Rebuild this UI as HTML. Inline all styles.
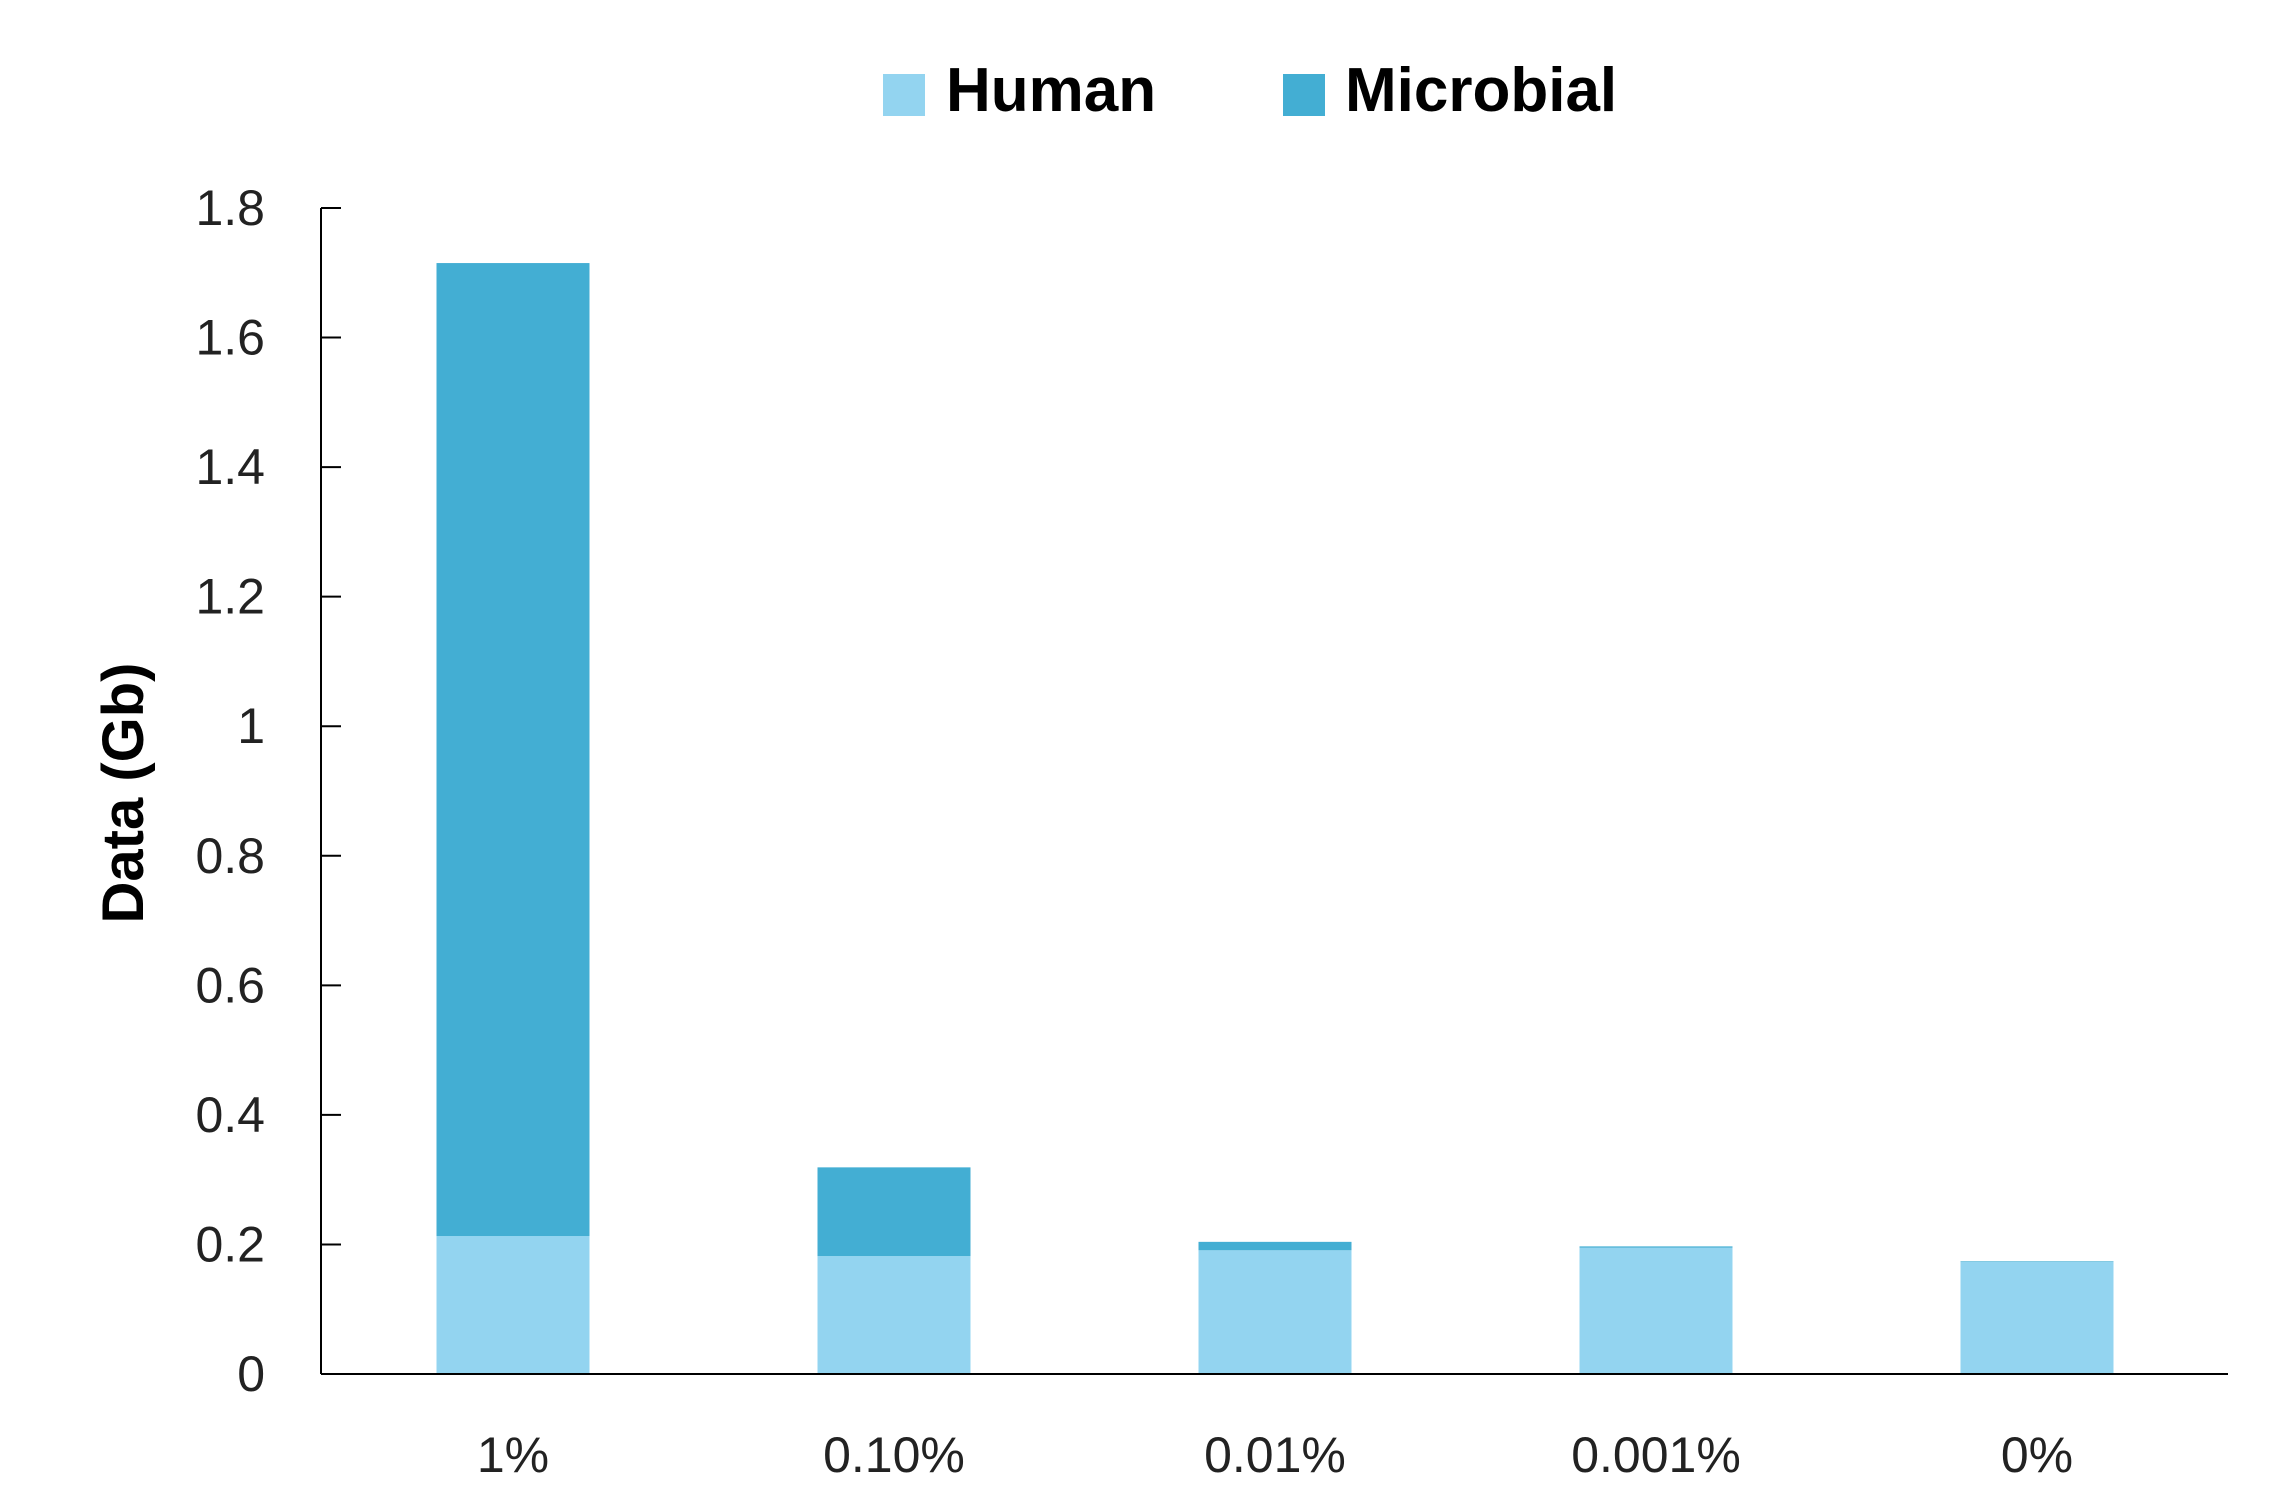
<!DOCTYPE html>
<html><head><meta charset="utf-8"><style>
html,body{margin:0;padding:0;background:#fff;}
svg{display:block;font-family:"Liberation Sans",sans-serif;}
</style></head><body>
<svg width="2269" height="1512" viewBox="0 0 2269 1512" id="chart">
<g>
<rect x="883" y="74" width="42" height="42" fill="#93d4f0"/>
<text x="946" y="111" font-size="62" font-weight="bold" fill="#000">Human</text>
<rect x="1283" y="74" width="42" height="42" fill="#43aed3"/>
<text x="1345" y="111" font-size="62" font-weight="bold" fill="#000">Microbial</text>
</g>
<text transform="translate(143,793) rotate(-90)" text-anchor="middle" font-size="58" font-weight="bold">Data (Gb)</text>
<g id="bars"></g>
<g id="axes"></g>
</svg>
<script>
const categories = ["1%","0.10%","0.01%","0.001%","0%"];
const human = [0.213,0.182,0.191,0.195,0.173];
const microbial = [1.502,0.137,0.013,0.002,0.001];
const yTicks = [0,0.2,0.4,0.6,0.8,1,1.2,1.4,1.6,1.8];
const yTickLabels = ["0","0.2","0.4","0.6","0.8","1","1.2","1.4","1.6","1.8"];

const NS="http://www.w3.org/2000/svg";
const x0=321,x1=2228,yTop=208,yBot=1374,yMax=1.8;
const step=381,firstC=513,bw=153;
function y(v){return yBot-(v/yMax)*(yBot-yTop);}
function xc(i){return firstC+i*step;}
function mk(t,a,p){const e=document.createElementNS(NS,t);for(const k in a)e.setAttribute(k,a[k]);p.appendChild(e);return e;}
const bars=document.getElementById('bars'),axes=document.getElementById('axes');
categories.forEach((c,i)=>{
  const h=mk('rect',{x:xc(i)-bw/2,y:y(human[i]),width:bw,height:y(0)-y(human[i]),fill:'#93d4f0'},bars);
  
  
  const top=human[i]+microbial[i];
  const m=mk('rect',{x:xc(i)-bw/2,y:y(top),width:bw,height:y(human[i])-y(top),fill:'#43aed3'},bars);
  
  
  const t=mk('text',{x:xc(i),y:1472,'text-anchor':'middle','font-size':'50',fill:'#222'},axes);
  t.textContent=c;
  
  
});
const ya=mk('line',{x1:x0,y1:yTop,x2:x0,y2:yBot,stroke:'#000','stroke-width':2},axes);


const xa=mk('line',{x1:x0,y1:yBot,x2:x1,y2:yBot,stroke:'#000','stroke-width':2},axes);


yTicks.forEach((v,i)=>{
  const tk=mk('line',{x1:x0,y1:y(v),x2:x0+20,y2:y(v),stroke:'#000','stroke-width':2},axes);
  
  
  const t=mk('text',{x:265,y:y(v)+17,'text-anchor':'end','font-size':'50',fill:'#222'},axes);
  t.textContent=yTickLabels[i];
  
  
});
</script>
</body></html>
